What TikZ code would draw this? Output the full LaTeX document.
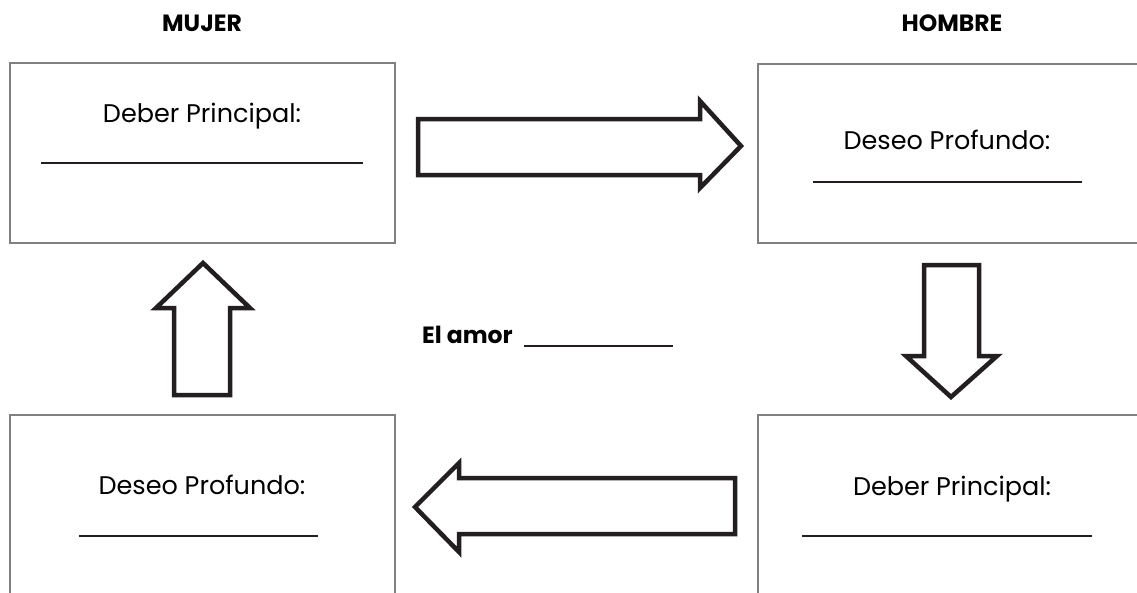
\documentclass[tikz,border=0pt]{standalone}
\usepackage{fontspec}
\setmainfont{Poppins}
\definecolor{boxgray}{HTML}{808080}
\definecolor{ink}{HTML}{231F20}
\tikzset{
  panel/.style={draw=boxgray, line width=2.5pt},
  bigarrow/.style={draw=ink, line width=4.5pt, line join=miter, fill=white},
  blank/.style={draw=ink, line width=2pt},
  label/.style={font=\fontsize{25.5}{30}\selectfont, anchor=base, inner sep=0pt},
  head/.style={font=\bfseries\fontsize{23.5}{28}\selectfont, anchor=base, inner sep=0pt},
}
\begin{document}
\begin{tikzpicture}[x=1pt,y=-1pt]
\useasboundingbox (0,0) rectangle (1137,592);
\clip (0,0) rectangle (1137,592);
% headings
\node[head] (mujer) at (202,31) {MUJER};
\node[head] (hombre) at (952,31) {HOMBRE};
% boxes
\draw[panel] (10,63) rectangle (395,243);
\draw[panel] (758,64) rectangle (1160,243);
\draw[panel] (10,415) rectangle (395,620);
\draw[panel] (758,415) rectangle (1160,620);
% box texts
\node[label] (t1) at (202,122) {Deber Principal:};
\draw[blank] (41,163) -- (363,163);
\node[label] (t2) at (947,149) {Deseo Profundo:};
\draw[blank] (813,182) -- (1082,182);
\node[label] (t3) at (202,494) {Deseo Profundo:};
\draw[blank] (79,536) -- (318,536);
\node[label] (t4) at (952,495) {Deber Principal:};
\draw[blank] (802,536) -- (1092,536);
% arrows
\draw[bigarrow] (418,119) -- (700,119) -- (700,101) -- (741,146) -- (700,188) -- (700,175) -- (418,175) -- cycle;
\draw[bigarrow] (924,265) -- (979,265) -- (979,356) -- (997,356) -- (951,397) -- (906,356) -- (924,356) -- cycle;
\draw[bigarrow] (735,478) -- (459,478) -- (459,463) -- (415,507) -- (459,552) -- (459,534) -- (735,534) -- cycle;
\draw[bigarrow] (174,395) -- (230,395) -- (230,308) -- (250,308) -- (203,263) -- (156,308) -- (174,308) -- cycle;
% centre text
\node[head, anchor=base west] (amor) at (422,343) {El amor};
\draw[blank] (524,346) -- (673,346);
\end{tikzpicture}
\end{document}
